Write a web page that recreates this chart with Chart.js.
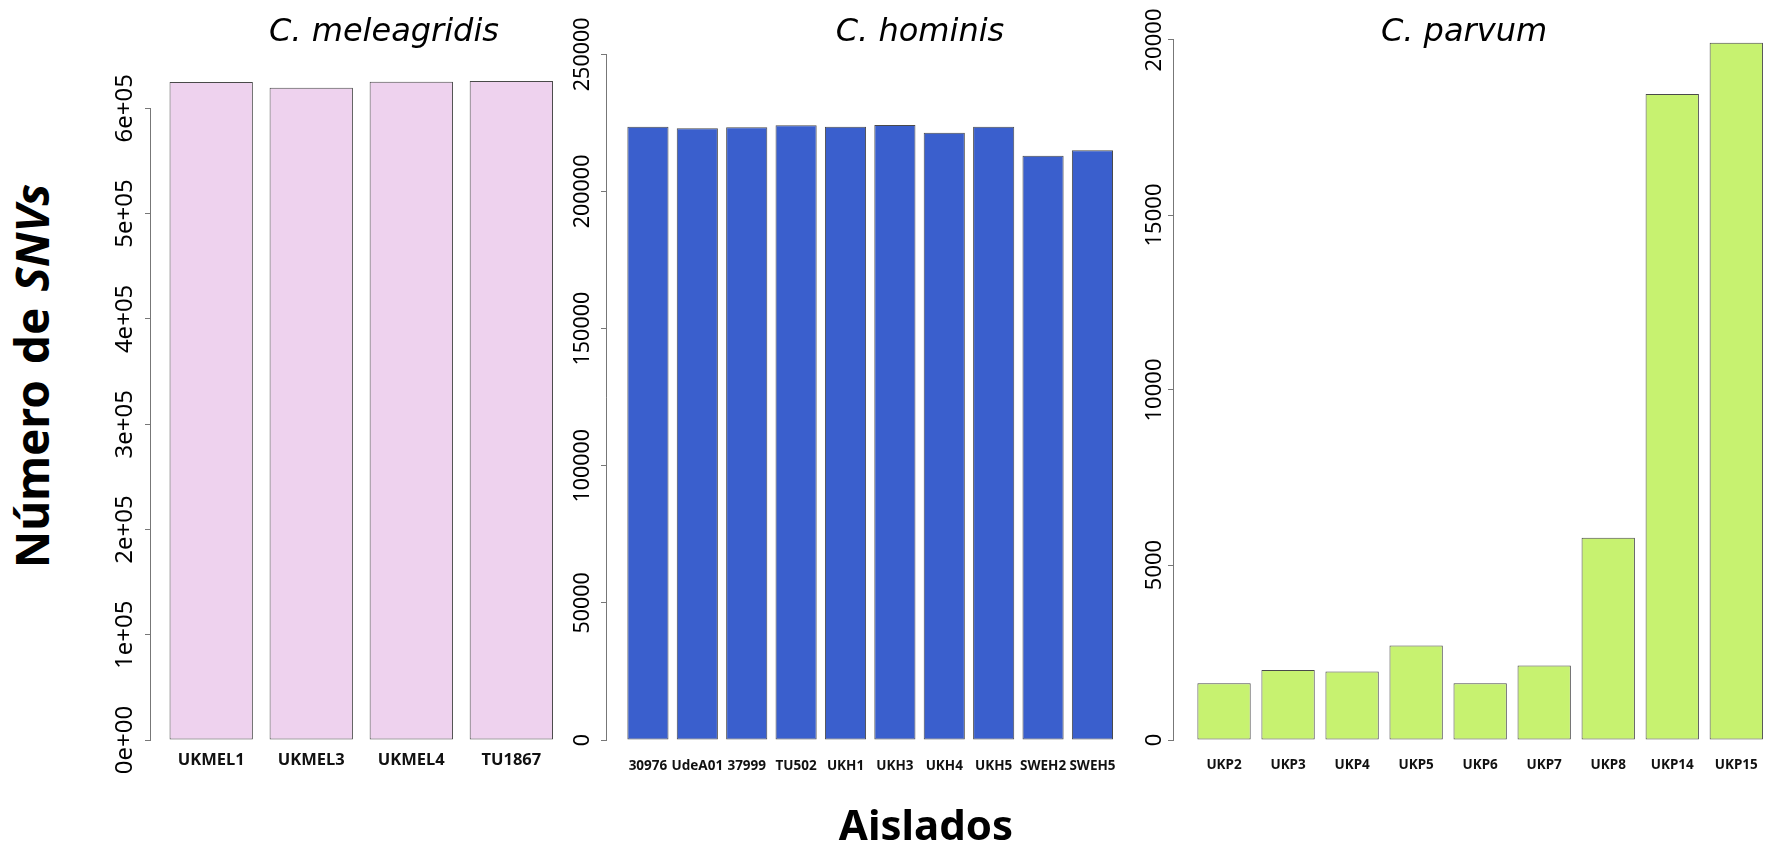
<!DOCTYPE html>
<html>
<head>
<meta charset="utf-8">
<script src="https://cdn.jsdelivr.net/npm/chart.js@4/dist/chart.umd.min.js"></script>
<style>
  html, body { margin: 0; padding: 0; background: #fff; }
  body { width: 1774px; height: 843px; position: relative; overflow: hidden; }
  canvas { position: absolute; top: 0; }
  .title {
    position: absolute; width: 400px; text-align: center; white-space: nowrap;
    font-family: 'DejaVu Sans', sans-serif; font-style: italic;
    font-size: 32px; line-height: 32px; color: #000;
  }
  .axlab {
    position: absolute; text-align: center; white-space: nowrap;
    font-family: 'Noto Sans', sans-serif; font-weight: bold; color: #000;
  }
</style>
</head>
<body>
<canvas id="mel"></canvas>
<canvas id="hom"></canvas>
<canvas id="par"></canvas>

<div class="title" style="left:184px; top:14px;">C. meleagridis</div>
<div class="title" style="left:720px; top:14px;">C. hominis</div>
<div class="title" style="left:1264px; top:14px;">C. parvum</div>

<div class="axlab" style="font-size:46px; line-height:46px; word-spacing:4px; width:600px; left:-269px; top:353px; transform:rotate(-90deg);">Número de <i>SNVs</i></div>
<div class="axlab" style="font-size:42px; line-height:42px; width:400px; left:726px; top:803px;">Aislados</div>

<script>
// SNV counts per isolate, one bar panel per species
const melIsolates = ['UKMEL1', 'UKMEL3', 'UKMEL4', 'TU1867'];
const melSNVs = [625000, 619500, 625300, 626000];
const melTickValues = [0, 100000, 200000, 300000, 400000, 500000, 600000];
const melTickLabels = ['0e+00', '1e+05', '2e+05', '3e+05', '4e+05', '5e+05', '6e+05'];

const homIsolates = ['30976', 'UdeA01', '37999', 'TU502', 'UKH1', 'UKH3', 'UKH4', 'UKH5', 'SWEH2', 'SWEH5'];
const homSNVs = [223600, 223000, 223400, 224100, 223600, 224200, 221400, 223600, 213000, 215000];
const homTickValues = [0, 50000, 100000, 150000, 200000, 250000];
const homTickLabels = ['0', '50000', '100000', '150000', '200000', '250000'];

const parIsolates = ['UKP2', 'UKP3', 'UKP4', 'UKP5', 'UKP6', 'UKP7', 'UKP8', 'UKP14', 'UKP15'];
const parSNVs = [1620, 2000, 1960, 2700, 1620, 2130, 5780, 18460, 19920];
const parTickValues = [0, 5000, 10000, 15000, 20000];
const parTickLabels = ['0', '5000', '10000', '15000', '20000'];

const AXIS_W = 40;     // width reserved for the y axis inside each canvas
const PAGE_H = 843;
const ZERO_Y = 740;    // baseline of all bars

// Base-graphics style y axis: line only between first and last tick, rotated labels
const axisDecor = {
  id: 'axisDecor',
  afterDraw(chart, args, opts) {
    const ys = chart.scales.y;
    const ctx = chart.ctx;
    const x = Math.round(chart.chartArea.left) - 0.5;
    const ticks = ys.ticks;
    ctx.save();
    ctx.strokeStyle = '#777';
    ctx.lineWidth = 1;
    ctx.beginPath();
    ctx.moveTo(x, ys.getPixelForValue(ticks[0].value));
    ctx.lineTo(x, ys.getPixelForValue(ticks[ticks.length - 1].value));
    ctx.stroke();
    ctx.fillStyle = '#000';
    ctx.font = opts.fontSize + 'px "Noto Sans"';
    ctx.textAlign = 'center';
    ctx.textBaseline = 'middle';
    ticks.forEach(t => {
      ctx.save();
      ctx.translate(x - opts.offset, ys.getPixelForValue(t.value));
      ctx.rotate(-Math.PI / 2);
      ctx.fillText(t.label, 0, 0);
      ctx.restore();
    });
    ctx.restore();
  }
};

function panel(id, p) {
  const canvas = document.getElementById(id);
  const left = p.chartLeft - AXIS_W;
  canvas.width = p.chartRight - left;
  canvas.height = PAGE_H;
  canvas.style.left = left + 'px';
  const xMin = (p.chartLeft - p.firstCenter) / p.step;
  const xMax = (p.chartRight - p.firstCenter) / p.step;

  new Chart(canvas, {
    type: 'bar',
    data: {
      datasets: [{
        data: p.values.map((v, i) => ({ x: i, y: v })),
        backgroundColor: p.color,
        borderColor: '#4a4a4a',
        borderWidth: 1,
        borderSkipped: false,
        barPercentage: 0.833,
        categoryPercentage: 1
      }]
    },
    options: {
      responsive: false,
      animation: false,
      devicePixelRatio: 1,
      layout: { padding: { top: p.top, left: 0, right: 0, bottom: 0 } },
      plugins: {
        legend: { display: false },
        tooltip: { enabled: false },
        title: { display: false },
        axisDecor: { offset: p.tickLabelOffset, fontSize: p.tickFont }
      },
      scales: {
        x: {
          type: 'linear',
          min: xMin,
          max: xMax,
          offset: false,
          grid: { display: false, drawTicks: false, tickLength: 0 },
          border: { display: false },
          afterBuildTicks: s => { s.ticks = p.isolates.map((_, i) => ({ value: i })); },
          afterFit: s => { s.height = PAGE_H - ZERO_Y; },
          ticks: {
            autoSkip: false,
            maxRotation: 0,
            minRotation: 0,
            padding: p.labelPad,
            color: '#111',
            font: { family: 'Noto Sans', weight: 'bold', size: p.labelSize },
            callback: v => p.isolates[v]
          }
        },
        y: {
          type: 'linear',
          min: 0,
          max: p.yMax,
          grid: { display: true, drawOnChartArea: false, drawTicks: true, tickLength: 6, color: '#777' },
          border: { display: false },
          afterBuildTicks: s => { s.ticks = p.tickValues.map(v => ({ value: v })); },
          afterFit: s => { s.width = AXIS_W; },
          ticks: { display: false, callback: (v, i) => p.tickLabels[i] }
        }
      }
    },
    plugins: [axisDecor]
  });
}

panel('mel', {
  isolates: melIsolates, values: melSNVs, tickValues: melTickValues, tickLabels: melTickLabels,
  color: '#EED2EE', yMax: 650000, top: 55.7,
  chartLeft: 151, chartRight: 572, firstCenter: 211.2, step: 100.05,
  labelSize: 16.5, labelPad: 10, tickLabelOffset: 25, tickFont: 24
});

panel('hom', {
  isolates: homIsolates, values: homSNVs, tickValues: homTickValues, tickLabels: homTickLabels,
  color: '#3A5FCD', yMax: 262000, top: 21.4,
  chartLeft: 607, chartRight: 1134, firstCenter: 648.05, step: 49.53,
  labelSize: 13.5, labelPad: 18.5, tickLabelOffset: 24, tickFont: 21.5
});

panel('par', {
  isolates: parIsolates, values: parSNVs, tickValues: parTickValues, tickLabels: parTickLabels,
  color: '#C7F270', yMax: 20800, top: 12,
  chartLeft: 1174, chartRight: 1786, firstCenter: 1224.05, step: 64.03,
  labelSize: 13.5, labelPad: 17, tickLabelOffset: 19, tickFont: 22
});
</script>
</body>
</html>
